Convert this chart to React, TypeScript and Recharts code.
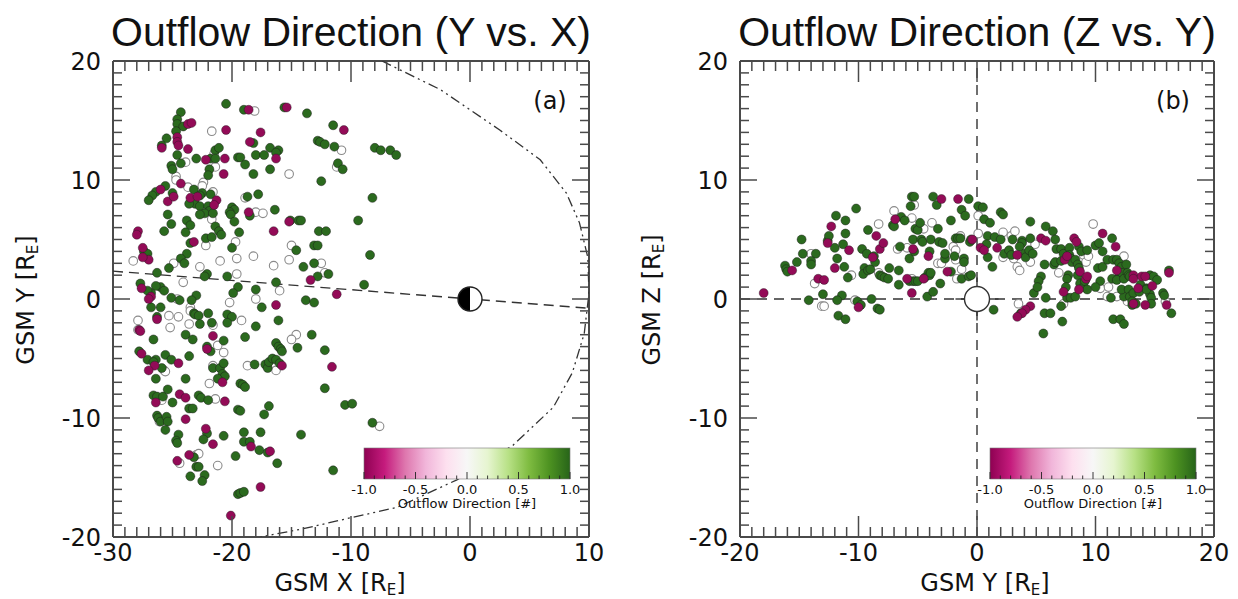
import React from "react";
import { ScatterChart, Scatter, XAxis, YAxis, ReferenceLine } from "recharts";

type P = [number, number];
const toPts = (a: P[]) => a.map(([x, y]) => ({ x, y }));

// ---- panel (a): GSM Y vs X ----
const xyGreen: P[] = [
  [-20.5,16.4],[-19.0,15.9],[-15.6,16.1],[-13.7,15.6],[-24.3,15.7],[-24.6,15.1],[-24.6,14.7],[-24.1,14.5],[-24.7,14.1],[-11.5,14.6],
  [-25.5,13.5],[-25.9,12.9],[-18.2,13.1],[-12.8,13.3],[-12.6,13.2],[-12.2,13.0],[-11.4,12.8],[-16.8,12.7],[-16.1,12.5],[-16.3,12.3],
  [-21.4,12.5],[-21.1,12.7],[-24.6,12.1],[-23.0,11.8],[-21.8,11.8],[-21.4,11.8],[-19.5,11.9],[-19.3,11.9],[-18.9,11.3],[-18.0,12.1],
  [-17.3,12.1],[-11.1,11.4],[-10.7,10.9],[-25.1,11.2],[-24.3,11.4],[-25.0,10.9],[-21.9,10.9],[-18.2,10.5],[-16.8,10.9],[-12.5,9.9],
  [-25.6,9.5],[-26.4,9.0],[-26.7,8.7],[-27.0,8.3],[-25.0,8.9],[-23.2,9.2],[-22.5,8.9],[-22.0,10.4],[-21.8,8.8],[-22.7,8.7],
  [-23.1,8.0],[-22.7,7.8],[-23.6,8.0],[-22.0,7.8],[-18.7,8.6],[-17.8,8.8],[-21.9,7.4],[-22.3,7.2],[-21.6,7.2],[-22.7,7.1],
  [-20.0,7.7],[-19.8,7.5],[-20.2,7.3],[-20.1,7.1],[-19.8,6.5],[-18.5,7.0],[-16.4,7.5],[-15.1,6.6],[-14.4,6.6],[-14.2,6.6],
  [-9.4,6.6],[-25.4,7.1],[-25.1,6.3],[-23.8,6.6],[-23.5,6.2],[-25.7,5.7],[-23.9,5.6],[-21.4,6.1],[-21.1,5.7],[-20.9,5.4],
  [-19.4,5.6],[-12.7,5.7],[-12.1,5.7],[-23.5,4.7],[-22.2,5.1],[-21.7,5.2],[-20.0,4.3],[-14.6,4.1],[-13.1,4.5],[-12.8,4.5],
  [-27.4,4.0],[-27.1,3.8],[-23.8,3.8],[-24.3,3.4],[-24.0,3.0],[-25.3,2.6],[-13.1,3.0],[-14.0,2.7],[-11.9,2.1],[-12.8,1.9],
  [-26.3,2.2],[-22.1,2.1],[-22.3,1.9],[-20.4,1.9],[-27.7,1.3],[-26.0,1.0],[-25.7,0.7],[-26.4,1.1],[-23.0,0.3],[-23.4,-0.1],
  [-25.1,0.1],[-24.4,-0.1],[-26.8,0.5],[-27.1,0.7],[-19.5,1.0],[-19.9,0.5],[-18.0,0.8],[-16.3,1.4],[-13.8,-0.1],[-13.1,-0.3],
  [-26.8,-0.7],[-26.0,-0.7],[-17.5,-0.7],[-8.0,12.7],[-7.5,12.5],[-6.7,12.5],[-6.2,12.1],[-8.2,8.5],[-8.4,3.7],[-8.9,1.2],
  [-26.3,-1.5],[-23.2,-1.2],[-23.1,-1.3],[-22.8,-1.4],[-22.0,-1.2],[-22.7,-2.1],[-21.7,-2.0],[-20.4,-1.3],[-20.0,-1.5],[-20.4,-2.0],
  [-18.0,-2.3],[-16.1,-1.8],[-26.6,-3.4],[-23.9,-3.0],[-23.3,-3.4],[-20.7,-3.5],[-22.1,-4.0],[-21.8,-4.4],[-18.9,-3.2],[-13.3,-3.0],
  [-16.3,-3.7],[-16.1,-4.0],[-15.9,-4.2],[-15.8,-4.4],[-14.5,-4.1],[-12.2,-4.3],[-27.8,-4.4],[-27.1,-5.1],[-26.4,-5.1],[-26.6,-5.3],
  [-25.6,-4.7],[-25.1,-5.1],[-23.6,-4.8],[-25.9,-5.8],[-21.6,-5.8],[-21.0,-5.8],[-20.7,-5.4],[-20.8,-6.3],[-20.6,-6.5],[-21.2,-6.7],
  [-18.1,-5.5],[-17.2,-5.5],[-17.0,-5.8],[-16.9,-5.3],[-16.6,-5.0],[-16.3,-5.1],[-16.0,-5.4],[-26.4,-6.7],[-23.9,-6.7],[-19.3,-7.1],
  [-19.1,-7.2],[-18.9,-7.4],[-12.2,-7.5],[-26.6,-8.1],[-26.3,-8.2],[-25.8,-8.2],[-25.4,-7.6],[-25.0,-8.7],[-22.8,-8.1],[-22.6,-8.3],
  [-22.0,-8.5],[-23.6,-9.2],[-23.3,-9.2],[-19.5,-9.3],[-19.3,-9.4],[-16.9,-9.0],[-17.3,-9.7],[-10.5,-8.9],[-9.9,-8.8],[-26.3,-9.8],
  [-26.2,-10.0],[-26.0,-10.3],[-25.5,-9.9],[-25.4,-10.3],[-25.6,-11.0],[-24.5,-11.4],[-22.1,-11.3],[-20.7,-11.5],[-19.0,-11.2],[-17.6,-11.2],
  [-14.2,-11.4],[-24.7,-11.9],[-24.6,-12.1],[-22.4,-11.8],[-19.0,-12.0],[-18.5,-12.0],[-17.7,-12.7],[-17.0,-12.9],[-19.7,-13.2],[-23.2,-13.3],
  [-16.2,-13.8],[-23.0,-14.1],[-22.8,-14.1],[-11.5,-14.4],[-23.5,-14.9],[-22.3,-14.8],[-22.5,-15.3],[-19.5,-16.4],[-19.3,-16.3],[-19.0,-16.2],
  [-8.2,-10.4],
];
const xyPink: P[] = [
  [-18.6,15.9],[-15.4,16.1],[-23.7,14.7],[-23.4,14.8],[-20.5,14.2],[-17.6,14.0],[-10.6,14.2],[-24.6,13.6],[-24.6,13.2],[-25.9,12.7],
  [-24.5,12.9],[-23.7,12.6],[-18.5,13.2],[-22.2,11.7],[-20.6,11.8],[-16.3,11.8],[-20.7,10.5],[-24.3,9.7],[-26.0,9.2],[-25.4,8.2],
  [-24.9,8.6],[-23.5,8.5],[-22.9,8.6],[-21.3,8.3],[-21.5,7.9],[-18.6,7.3],[-15.2,6.5],[-16.5,5.7],[-27.9,5.7],[-28.0,5.4],
  [-23.2,4.8],[-27.5,4.3],[-27.0,3.3],[-27.5,3.5],[-13.4,1.6],[-27.6,0.9],[-26.8,0.2],[-27.0,0.0],[-11.2,0.4],[-16.3,-0.5],
  [-27.8,-2.6],[-27.7,-2.7],[-26.3,-1.7],[-21.6,-3.1],[-22.1,-4.2],[-27.6,-4.6],[-26.5,-5.6],[-27.0,-6.0],[-24.5,-5.4],[-20.8,-7.0],
  [-15.8,-5.6],[-11.6,-5.7],[-26.4,-8.7],[-24.4,-8.0],[-23.9,-8.3],[-20.6,-8.6],[-23.9,-10.1],[-22.2,-10.9],[-21.6,-12.2],[-18.4,-12.4],
  [-16.8,-12.8],[-23.6,-13.1],[-24.6,-13.6],[-17.6,-15.8],[-20.1,-18.2],
];
const xyOpen: P[] = [
  [-18.1,15.8],[-21.7,14.1],[-10.8,12.5],[-21.5,12.2],[-23.9,11.5],[-11.2,11.1],[-21.4,11.1],[-15.2,10.5],[-24.7,10.3],[-24.7,10.0],
  [-23.7,9.4],[-22.4,9.8],[-22.5,9.5],[-21.6,9.0],[-18.9,8.5],[-21.7,6.7],[-18.0,7.3],[-17.4,7.2],[-19.7,4.8],[-22.2,4.5],
  [-15.0,4.5],[-28.3,3.2],[-24.9,3.0],[-22.7,2.7],[-21.0,3.2],[-19.6,3.4],[-18.2,3.6],[-16.5,2.8],[-15.2,3.3],[-12.5,3.0],
  [-12.2,2.2],[-19.6,2.1],[-24.1,1.4],[-24.6,0.0],[-16.0,0.7],[-20.2,-0.3],[-18.0,0.0],[-23.5,-0.7],[-27.9,-1.8],[-27.9,-2.6],
  [-25.3,-1.4],[-24.5,-1.5],[-25.2,-2.4],[-23.5,-1.0],[-23.6,-2.1],[-21.6,-2.2],[-19.2,-1.8],[-21.2,-3.9],[-20.7,-4.5],[-14.6,-3.0],
  [-15.0,-3.4],[-25.7,-6.0],[-25.6,-6.1],[-21.6,-5.6],[-18.7,-5.6],[-16.3,-6.0],[-21.9,-7.1],[-25.9,-8.5],[-21.4,-8.4],[-26.1,-10.3],
  [-23.0,-13.1],[-22.8,-13.0],[-24.4,-13.8],[-21.2,-14.0],[-7.6,-10.7],
];
// magnetopause (dash-dot-dot) and Sun-Earth line (dashed)
const mpCurve: P[] = [
  [-7.4,20.0],[-2.5,17.6],[2.5,14.2],[5.9,11.7],[8.1,8.9],[9.2,6.4],[9.9,3.5],[10.0,0.5],[9.6,-2.9],[8.6,-6.2],
  [7.0,-9.1],[3.6,-12.3],[-1.1,-15.2],[-6.1,-17.5],[-10.1,-18.4],[-14.0,-19.3],[-17.6,-20.0],
];
const sunLine: P[] = [[-30, 2.34], [10, -0.78]];

// ---- panel (b): GSM Z vs Y ----
const zyGreen: P[] = [
  [-16.2,2.8],[-16.1,2.5],[-16.0,2.3],[-15.2,3.1],[-14.8,5.0],[-14.7,3.8],[-13.6,3.8],[-14.0,3.2],[-14.0,2.9],[-14.2,-0.1],
  [-13.0,0.4],[-12.6,4.9],[-12.5,5.3],[-11.9,7.0],[-12.0,4.3],[-11.8,3.4],[-11.3,4.6],[-11.2,2.7],[-11.1,6.6],[-11.1,5.5],
  [-10.9,1.8],[-10.2,7.6],[-11.4,0.3],[-11.8,-0.1],[-11.7,-1.4],[-11.1,-1.7],[-10.1,-0.2],[-9.8,-0.5],[-9.7,4.2],[-9.5,2.6],
  [-9.6,2.1],[-9.3,3.8],[-9.2,5.8],[-9.2,2.4],[-9.0,2.5],[-8.7,3.6],[-8.6,3.1],[-8.9,0.0],[-8.2,2.0],[-8.0,1.9],
  [-7.8,1.8],[-7.4,2.6],[-7.5,1.7],[-8.4,-0.8],[-8.2,-0.9],[-7.1,6.2],[-7.0,6.1],[-6.5,4.4],[-6.4,6.9],[-6.1,6.6],
  [-6.6,2.4],[-6.6,1.2],[-5.7,3.4],[-5.7,1.5],[-5.4,1.5],[-5.2,1.5],[-5.0,1.5],[-5.4,5.0],[-5.3,4.0],[-5.2,5.9],
  [-5.0,5.8],[-4.8,6.4],[-4.7,5.0],[-4.6,4.8],[-4.4,1.8],[-4.1,2.2],[-4.0,2.0],[-3.9,5.0],[-4.0,4.0],[-3.9,2.2],
  [-3.7,8.6],[-3.4,7.9],[-3.3,5.9],[-3.2,4.8],[-3.1,1.3],[-2.9,4.7],[-2.7,3.4],[-2.7,3.8],[-2.2,2.3],[-2.2,6.6],
  [-5.5,8.6],[-5.3,8.6],[-5.6,7.8],[-4.2,0.2],[-3.7,0.6],[-1.8,5.1],[-1.6,5.1],[-1.4,5.1],[-1.9,3.6],[-1.1,3.4],
  [-1.1,3.1],[-1.3,7.5],[-1.0,7.0],[-0.7,8.4],[-0.6,4.8],[-0.5,5.0],[-1.3,1.7],[-0.7,1.9],[-0.5,2.0],[0.1,7.8],
  [0.5,7.7],[0.6,6.7],[1.1,6.4],[0.9,5.3],[0.8,4.6],[1.5,5.2],[0.9,3.5],[1.3,2.7],[1.4,-0.9],[2.0,7.3],
  [2.2,7.1],[2.0,5.0],[2.3,3.8],[3.0,5.0],[2.7,4.1],[2.9,3.7],[3.8,4.9],[3.8,4.7],[3.6,4.4],[4.0,3.8],
  [4.1,3.5],[4.4,4.1],[4.5,5.1],[4.7,3.8],[4.8,0.5],[3.7,-1.2],[4.5,6.5],[5.8,6.1],[6.4,5.7],[6.6,5.0],
  [5.7,2.9],[6.5,2.9],[5.4,1.9],[5.2,1.5],[5.1,1.0],[5.8,0.1],[5.7,-1.2],[6.2,-1.2],[5.6,-2.9],[6.6,3.1],
  [6.7,4.2],[7.1,4.2],[7.1,3.2],[7.3,3.8],[7.8,4.3],[7.8,3.7],[7.9,3.4],[8.0,3.1],[7.7,2.0],[7.6,1.7],
  [7.5,1.0],[7.1,-0.6],[7.2,-1.9],[7.6,0.1],[7.9,0.1],[8.6,4.4],[8.3,3.3],[8.5,2.9],[8.6,2.6],[8.5,2.0],
  [8.8,4.0],[9.3,4.1],[8.7,1.3],[9.0,1.0],[9.1,1.5],[8.3,0.2],[9.3,0.8],[10.0,4.5],[10.3,4.7],[10.6,4.0],
  [10.2,2.6],[10.4,1.5],[10.0,1.0],[10.6,2.7],[11.0,3.3],[11.4,5.1],[11.5,3.3],[11.8,3.3],[12.0,3.0],[12.2,2.7],
  [12.6,2.9],[12.0,1.9],[12.2,2.2],[12.7,2.2],[11.4,1.7],[11.8,1.6],[12.4,1.7],[12.8,2.0],[12.9,1.9],[11.3,0.1],
  [12.4,0.2],[12.2,0.8],[12.8,0.8],[12.9,0.2],[13.2,0.5],[13.1,-0.5],[13.1,-0.2],[13.4,-0.4],[11.5,-1.7],[12.1,-1.7],
  [12.4,-2.1],[13.7,0.6],[13.8,1.2],[14.3,0.9],[14.6,0.4],[14.7,0.1],[14.6,2.0],[14.9,1.9],[15.2,1.6],[14.7,-0.4],
  [14.3,0.8],[15.7,0.5],[15.8,0.3],[16.2,2.4],[16.4,-1.2],
];
const zyPink: P[] = [
  [-18.0,0.5],[-15.6,2.4],[-13.4,1.7],[-12.9,1.6],[-12.6,4.7],[-12.3,6.1],[-12.0,2.6],[-10.8,4.1],[-10.0,-0.7],[-8.8,3.5],
  [-8.5,5.3],[-8.2,4.2],[-7.9,4.7],[-6.9,6.7],[-5.9,1.7],[-5.4,4.2],[-4.5,1.7],[-4.1,3.6],[-2.5,2.3],[-3.0,8.4],
  [-5.5,0.5],[-1.6,8.4],[-0.4,5.0],[0.3,4.3],[0.6,4.1],[1.7,4.3],[3.4,3.7],[4.5,-0.6],[4.1,-0.9],[3.8,-1.2],
  [3.4,-1.5],[5.4,5.1],[5.8,4.9],[7.4,3.3],[7.6,3.6],[7.3,0.6],[8.2,5.1],[8.4,4.8],[8.7,2.3],[9.2,1.7],
  [9.3,1.9],[8.6,0.8],[10.6,5.5],[11.7,4.4],[11.8,2.4],[13.2,2.0],[13.2,1.7],[13.2,-0.4],[13.6,0.9],[13.9,1.9],
  [14.2,1.9],[14.8,1.1],[14.2,-0.5],[16.0,-0.5],[16.2,2.2],
];
const zyOpen: P[] = [
  [-14.0,3.8],[-13.7,1.3],[-13.1,-0.6],[-12.9,-0.6],[-10.6,2.0],[-10.3,-0.1],[-8.3,6.3],[-8.3,2.2],[-7.0,7.4],[-6.7,4.2],
  [-5.9,4.3],[-5.5,1.7],[-4.7,6.0],[-4.5,5.9],[-3.8,6.4],[-3.3,3.0],[-3.0,3.0],[-5.3,7.9],[-5.5,6.8],[-2.0,4.4],
  [-1.4,5.3],[-1.8,4.1],[-1.8,3.3],[-1.3,2.5],[-1.7,1.7],[0.1,5.5],[0.1,7.0],[2.2,5.6],[2.2,3.5],[2.9,5.3],
  [3.2,5.7],[3.1,3.4],[3.4,2.7],[3.6,2.4],[3.5,-0.4],[4.5,3.1],[4.9,4.6],[6.9,2.2],[7.3,-0.4],[9.0,3.7],
  [9.2,3.1],[9.4,3.6],[9.8,6.3],[10.4,0.9],[11.1,1.0],[12.4,3.6],[11.0,0.2],[11.8,0.2],[12.7,-0.2],[15.9,-0.2],
];
const zAxisX: P[] = [[0, -20], [0, 20]];
const zAxisY: P[] = [[-20, 0], [20, 0]];
const origin: P[] = [[0, 0]];

// ticks
const range = (a: number, b: number) => Array.from({ length: b - a + 1 }, (_, i) => a + i);
const xTicksA = range(-30, 10);
const xMajorA = [-30, -20, -10, 0, 10];
const xTicksB = range(-20, 20);
const xMajorB = [-20, -10, 0, 10, 20];
const yTicks = range(-20, 20);
const yMajor = [-20, -10, 0, 10, 20];

// colorbar
const cbTicks = [-1.0, -0.5, 0.0, 0.5, 1.0];
const cbMinor = range(-10, 10).map((v) => v / 10);
const piyg = ["#8e0152", "#c51b7d", "#de77ae", "#f1b6da", "#fde0ef", "#f7f7f7", "#e6f5d0", "#b8e186", "#7fbc41", "#4d9221", "#276419"];

const FRAME = "#4a4a4a";
const INK = "#111";
const PINK = "#930b57";
const GREEN = "#2b6a1e";
const SANS = "'DejaVu Sans', 'Open Sans', sans-serif";

const greenDot = (p: any) => (
  <circle cx={p.cx} cy={p.cy} r={4.5} fill={GREEN} stroke="#1c1c1c" strokeOpacity={0.6} strokeWidth={0.8} />
);
const pinkDot = (p: any) => (
  <circle cx={p.cx} cy={p.cy} r={4.5} fill={PINK} stroke="#1c1c1c" strokeOpacity={0.5} strokeWidth={0.8} />
);
const openDot = (p: any) => (
  <circle cx={p.cx} cy={p.cy} r={4.3} fill="#fff" stroke="#8a8a8a" strokeWidth={1.1} />
);
const noDot = () => <g />;

const earthHalf = (p: any) => {
  const r = 12;
  return (
    <g>
      <circle cx={p.cx} cy={p.cy} r={r} fill="#fff" />
      <path d={`M${p.cx},${p.cy - r} A${r},${r} 0 0 0 ${p.cx},${p.cy + r} Z`} fill="#000" />
      <circle cx={p.cx} cy={p.cy} r={r} fill="none" stroke="#222" strokeWidth={1.4} />
    </g>
  );
};
const earthCross = (p: any) => {
  const r = 12.5;
  const l = 9;
  const { cx, cy } = p;
  return (
    <g stroke="#333" strokeWidth={1.4}>
      <line x1={cx} x2={cx} y1={cy - r - l} y2={cy - r} />
      <line x1={cx} x2={cx} y1={cy + r} y2={cy + r + l} />
      <line x1={cx - r - l} x2={cx - r} y1={cy} y2={cy} />
      <line x1={cx + r} x2={cx + r + l} y1={cy} y2={cy} />
      <circle cx={cx} cy={cy} r={r} fill="#fff" />
    </g>
  );
};

// tick renderers also draw the mirrored ticks on the top / right frame
function makeXTick(top: number, majors: number[]) {
  return (props: any) => {
    const { x, y, payload } = props;
    const major = majors.includes(payload.value);
    const len = major ? 21 : 10;
    return (
      <g>
        <line x1={x} x2={x} y1={y} y2={y - len} stroke={FRAME} strokeWidth={1.5} />
        <line x1={x} x2={x} y1={top} y2={top + len} stroke={FRAME} strokeWidth={1.5} />
        {major && (
          <text x={x} y={y + 24} textAnchor="middle" fontSize={24} fill={INK} fontFamily={SANS}>
            {payload.value}
          </text>
        )}
      </g>
    );
  };
}

function makeYTick(right: number, majors: number[]) {
  return (props: any) => {
    const { x, y, payload } = props;
    const major = majors.includes(payload.value);
    const len = major ? 17 : 9;
    return (
      <g>
        <line x1={x} x2={x + len} y1={y} y2={y} stroke={FRAME} strokeWidth={1.5} />
        <line x1={right} x2={right - len} y1={y} y2={y} stroke={FRAME} strokeWidth={1.5} />
        {major && (
          <text x={x - 12} y={y + 9} textAnchor="end" fontSize={24} fill={INK} fontFamily={SANS}>
            {payload.value}
          </text>
        )}
      </g>
    );
  };
}

interface PanelProps {
  left: number;
  width: number;
  margin: { top: number; right: number; bottom: number; left: number };
  xDomain: [number, number];
  xTicks: number[];
  xMajor: number[];
  children: React.ReactNode;
}

function Panel({ left, width, margin, xDomain, xTicks, xMajor, children }: PanelProps) {
  const H = 599;
  const plotRight = width - margin.right;
  return (
    <div style={{ position: "absolute", left, top: 0 }}>
      <ScatterChart width={width} height={H} margin={{ ...margin, bottom: margin.bottom - 1, left: margin.left - 1 }}>
        <XAxis
          type="number"
          dataKey="x"
          domain={xDomain}
          ticks={xTicks}
          interval={0}
          allowDataOverflow
          height={1}
          tickSize={0}
          tickMargin={0}
          tickLine={false}
          axisLine={{ stroke: FRAME, strokeWidth: 2 }}
          tick={makeXTick(margin.top, xMajor)}
        />
        <YAxis
          type="number"
          dataKey="y"
          domain={[-20, 20]}
          ticks={yTicks}
          interval={0}
          allowDataOverflow
          width={1}
          tickSize={0}
          tickMargin={0}
          tickLine={false}
          axisLine={{ stroke: FRAME, strokeWidth: 2 }}
          tick={makeYTick(plotRight, yMajor)}
        />
        <ReferenceLine y={20} stroke={FRAME} strokeWidth={2} />
        <ReferenceLine x={xDomain[1]} stroke={FRAME} strokeWidth={2} />
        {children}
      </ScatterChart>
    </div>
  );
}

function Colorbar({ x0, y0 }: { x0: number; y0: number }) {
  const w = 206;
  const h = 31;
  const px = (v: number) => x0 + ((v + 1) / 2) * w;
  return (
    <g>
      <rect x={x0} y={y0} width={w} height={h} fill="url(#piyg)" stroke="#777" strokeWidth={0.6} />
      {cbMinor.map((v) => {
        const major = cbTicks.some((t) => Math.abs(t - v) < 1e-6);
        return (
          <line key={v} x1={px(v)} x2={px(v)} y1={y0 + h} y2={y0 + h - (major ? 7 : 3.5)} stroke="#222" strokeWidth={0.9} />
        );
      })}
      {cbTicks.map((v) => (
        <text key={v} x={px(v)} y={y0 + h + 15} textAnchor="middle" fontSize={13} fill={INK} fontFamily="'DejaVu Sans', sans-serif">
          {v.toFixed(1)}
        </text>
      ))}
      <text x={x0 + w / 2} y={y0 + h + 29} textAnchor="middle" fontSize={13} fill={INK} fontFamily="'DejaVu Sans', sans-serif">
        Outflow Direction [#]
      </text>
    </g>
  );
}

function AxisTitle({ x, y, main, rotate }: { x: number; y: number; main: string; rotate?: boolean }) {
  return (
    <text
      x={rotate ? 0 : x}
      y={rotate ? 0 : y}
      transform={rotate ? `translate(${x},${y}) rotate(-90)` : undefined}
      textAnchor="middle"
      fontSize={24}
      fill={INK}
      fontFamily={SANS}
    >
      {main} [R
      <tspan fontSize={15} dy={4}>E</tspan>
      <tspan dy={-4}>]</tspan>
    </text>
  );
}

export default function App() {
  return (
    <div style={{ position: "absolute", left: 0, top: 0, width: 1238, height: 599, background: "#fff", overflow: "hidden" }}>
      <Panel left={0} width={620} margin={{ top: 61, right: 31, bottom: 62, left: 113 }} xDomain={[-30, 10]} xTicks={xTicksA} xMajor={xMajorA}>
        <Scatter data={toPts(sunLine)} shape={noDot} line={{ stroke: "#333", strokeWidth: 1.4, strokeDasharray: "10 6" }} isAnimationActive={false} />
        <Scatter data={toPts(mpCurve)} shape={noDot} line={{ stroke: "#333", strokeWidth: 1.3, strokeDasharray: "10 4 2 4 2 4" }} lineType="joint" isAnimationActive={false} />
        <Scatter data={toPts(xyOpen)} shape={openDot} isAnimationActive={false} />
        <Scatter data={toPts(xyGreen)} shape={greenDot} isAnimationActive={false} />
        <Scatter data={toPts(xyPink)} shape={pinkDot} isAnimationActive={false} />
        <Scatter data={toPts(origin)} shape={earthHalf} isAnimationActive={false} />
      </Panel>
      <Panel left={620} width={618} margin={{ top: 61, right: 24, bottom: 62, left: 120 }} xDomain={[-20, 20]} xTicks={xTicksB} xMajor={xMajorB}>
        <Scatter data={toPts(zAxisX)} shape={noDot} line={{ stroke: "#333", strokeWidth: 1.4, strokeDasharray: "10 7" }} isAnimationActive={false} />
        <Scatter data={toPts(zAxisY)} shape={noDot} line={{ stroke: "#333", strokeWidth: 1.4, strokeDasharray: "10 7" }} isAnimationActive={false} />
        <Scatter data={toPts(zyOpen)} shape={openDot} isAnimationActive={false} />
        <Scatter data={toPts(zyGreen)} shape={greenDot} isAnimationActive={false} />
        <Scatter data={toPts(zyPink)} shape={pinkDot} isAnimationActive={false} />
        <Scatter data={toPts(origin)} shape={earthCross} isAnimationActive={false} />
      </Panel>
      <svg width={1238} height={599} style={{ position: "absolute", left: 0, top: 0, pointerEvents: "none" }}>
        <defs>
          <linearGradient id="piyg" x1="0" x2="1" y1="0" y2="0">
            {piyg.map((c, i) => (
              <stop key={i} offset={i / (piyg.length - 1)} stopColor={c} />
            ))}
          </linearGradient>
        </defs>
        <text x={351} y={46} textAnchor="middle" fontSize={41} fill={INK} fontFamily="'Liberation Sans', Arial, sans-serif">
          Outflow Direction (Y vs. X)
        </text>
        <text x={977} y={46} textAnchor="middle" fontSize={41} fill={INK} fontFamily="'Liberation Sans', Arial, sans-serif">
          Outflow Direction (Z vs. Y)
        </text>
        <text x={550} y={109} textAnchor="middle" fontSize={24} fill={INK} fontFamily={SANS}>(a)</text>
        <text x={1173} y={109} textAnchor="middle" fontSize={24} fill={INK} fontFamily={SANS}>(b)</text>
        <AxisTitle x={340} y={591} main="GSM X" />
        <AxisTitle x={985} y={591} main="GSM Y" />
        <AxisTitle x={34} y={300} main="GSM Y" rotate />
        <AxisTitle x={660} y={300} main="GSM Z" rotate />
        <Colorbar x0={364} y0={448} />
        <Colorbar x0={990} y0={448} />
      </svg>
    </div>
  );
}
